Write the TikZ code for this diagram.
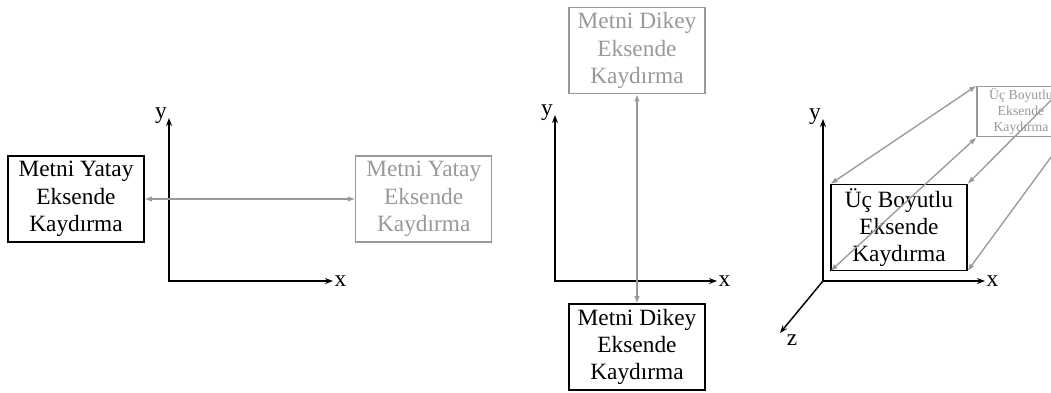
\documentclass[tikz,border=0pt]{standalone}
\usepackage{fontspec}
\setmainfont{Liberation Serif}
\usetikzlibrary{positioning, arrows.meta}

\definecolor{ghost}{gray}{0.6}

\begin{document}
\begin{tikzpicture}[
            x=0.75pt, y=-0.75pt,
            box/.style={draw, line width=0.8pt, rectangle, minimum width=102pt, minimum height=64.5pt, inner sep=0pt, align=center, font=\fontsize{17.5}{20.5}\selectfont},
            ghostbox/.style={box, draw=ghost, text=ghost, line width=0.8pt},
            smallbox/.style={ghostbox, minimum width=66pt, minimum height=38pt, font=\fontsize{10.3}{11.8}\selectfont},
            axis/.style={line width=1.1pt, {Stealth[length=6pt]}-{Stealth[length=6pt]}},
            moveline/.style={draw=ghost, line width=1pt, {Latex[length=5.5pt]}-{Latex[length=5.5pt]}},
            lbl/.style={inner sep=0pt, font=\fontsize{17.5}{20}\selectfont}
        ]
            \useasboundingbox (0,0) rectangle (1051,393);
            \clip (0,0) rectangle (1051,393);

            % Yatay kaydirma
            \coordinate (o1) at (169,281);
            \coordinate (y1) at (169,118);
            \coordinate (x1) at (333,281);
            \draw[axis] (y1) -- (o1) -- (x1);
            \node[lbl] at (161,116) {y};
            \node[lbl, right=1pt of x1] {x};
            \node[box] (yatay) at (76,199) {Metni Yatay\\Eksende\\Kaydırma};
            \node[ghostbox, right=158pt of yatay] (yatay2) {Metni Yatay\\Eksende\\Kaydırma};
            \draw[moveline] (yatay) -- (yatay2);

            % Dikey kaydirma
            \coordinate (o2) at (555,281);
            \coordinate (y2) at (555,115);
            \coordinate (x2) at (717,281);
            \draw[axis] (y2) -- (o2) -- (x2);
            \node[lbl] at (547,113) {y};
            \node[lbl, right=1pt of x2] {x};
            \node[box] (dikey) at (637,347) {Metni Dikey\\Eksende\\Kaydırma};
            \node[ghostbox, above=157pt of dikey] (dikey2) {Metni Dikey\\Eksende\\Kaydırma};
            \draw[moveline] (dikey) -- (dikey2);

            % Uc boyutlu kaydirma
            \coordinate (o3) at (823,281);
            \coordinate (y3) at (823,119);
            \coordinate (x3) at (985,281);
            \coordinate (z3) at (780,333);
            \draw[axis] (y3) -- (o3) -- (x3);
            \draw[axis, -{Stealth[length=6pt]}] (o3) -- (z3);
            \node[lbl] at (815,117) {y};
            \node[lbl, right=1pt of x3] {x};
            \node[lbl] at (792,340) {z};
            \node[box] (uc) at (899,227.5) {Üç Boyutlu\\Eksende\\Kaydırma};
            \node[smallbox] (uc2) at (1021,111.5) {Üç Boyutlu\\Eksende\\Kaydırma};
            \draw[moveline] (uc.north west) -- (uc2.north west);
            \draw[moveline] (uc.south west) -- (uc2.south west);
            \draw[moveline] (uc.north east) -- (uc2.north east);
            \draw[moveline] (uc.south east) -- (uc2.south east);
        \end{tikzpicture}
\end{document}
